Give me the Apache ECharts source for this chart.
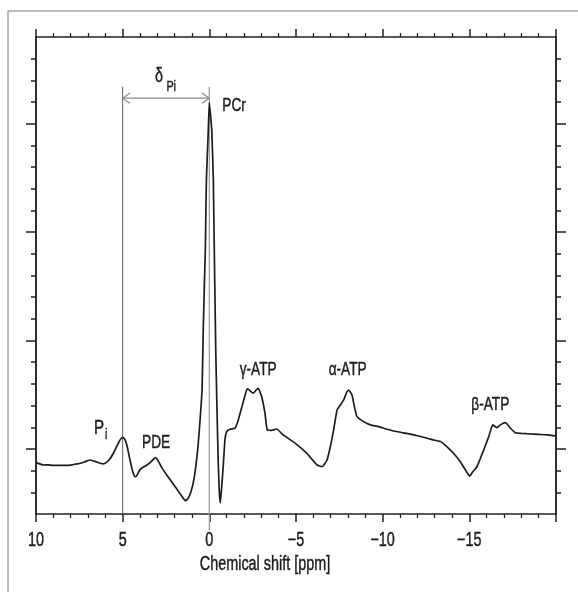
<!DOCTYPE html>
<html>
<head>
<meta charset="utf-8">
<script src="https://cdn.jsdelivr.net/npm/echarts@6/dist/echarts.min.js"></script>
<style>
html,body{margin:0;padding:0;background:#fff;}
#chart{width:578px;height:592px;}
</style>
</head>
<body>
<div id="chart"></div>
<script>
// ---- data ----
const ppm = [10, 9.75, 9.56, 9.3, 9.0, 8.6, 8.2, 7.9, 7.6, 7.2, 6.87, 6.5, 6.25, 6.1, 5.9, 5.7, 5.5, 5.3, 5.15, 5.0,
  4.88, 4.75, 4.6, 4.45, 4.3, 4.2, 4.05, 3.9, 3.6, 3.35, 3.11, 2.95, 2.75, 2.5, 2.25, 2.0, 1.77, 1.55, 1.38, 1.22,
  1.05, 0.9, 0.78, 0.68, 0.6, 0.52, 0.42, 0.35, 0.28, 0.23, 0.17, 0.08, 0.0, -0.08, -0.14, -0.23, -0.31, -0.37, -0.43, -0.51,
  -0.57, -0.63, -0.7, -0.8, -0.9, -1.0, -1.19, -1.48, -1.67, -1.96, -2.15, -2.21, -2.35, -2.53, -2.7, -2.82, -3.02, -3.21, -3.34, -3.6,
  -3.88, -4.26, -4.96, -5.63, -6.0, -6.21, -6.5, -6.79, -7.0, -7.17, -7.37, -7.56, -7.75, -7.94, -8.04, -8.23, -8.37, -8.52, -8.9, -9.29,
  -9.77, -10.2, -10.63, -11.2, -11.79, -12.3, -12.75, -13.33, -13.6, -13.91, -14.2, -14.48, -14.8, -15.02, -15.2, -15.44, -15.63, -15.83, -16.12, -16.35,
  -16.6, -16.79, -17.08, -17.37, -17.65, -18.0, -18.52, -19.0, -19.48, -20];
const intensity = [2.37, 2.30, 2.26, 2.27, 2.24, 2.24, 2.24, 2.27, 2.31, 2.40, 2.49, 2.40, 2.33, 2.31, 2.40, 2.58, 2.86, 3.18, 3.42, 3.54,
  3.45, 3.15, 2.58, 2.05, 1.72, 1.75, 1.98, 2.12, 2.26, 2.42, 2.60, 2.45, 2.15, 1.85, 1.57, 1.29, 1.03, 0.78, 0.61, 0.72,
  1.05, 1.55, 2.2, 2.9, 3.65, 4.49, 5.72, 8.49, 10.8, 12.18, 15.42, 17.26, 18.98, 18.3, 17.72, 15.42, 10.8, 7.57, 5.26, 2.49,
  1.11, 0.51, 1.11, 2.18, 3.42, 3.80, 3.91, 3.96, 4.34, 5.18, 5.72, 5.77, 5.68, 5.57, 5.72, 5.80, 5.41, 4.65, 3.88, 3.86,
  3.92, 3.65, 3.26, 2.80, 2.45, 2.26, 2.18, 2.49, 3.18, 3.88, 4.80, 5.03, 5.26, 5.64, 5.72, 5.49, 4.95, 4.49, 4.26, 4.11,
  4.03, 3.92, 3.83, 3.74, 3.65, 3.55, 3.45, 3.34, 3.18, 2.95, 2.70, 2.41, 2.0, 1.75, 1.95, 2.18, 2.55, 2.95, 3.57, 4.11,
  3.98, 4.11, 4.21, 3.96, 3.75, 3.72, 3.69, 3.67, 3.65, 3.60];
const xTickValues = [10, 5, 0, -5, -10, -15];
const xTickLabels = ['10', '5', '0', '\u22125', '\u221210', '\u221215'];
const yMinorTicks = [1,2,4,5,6,7,9,10,11,12,14,15,16,17,19,20,21];
const yMajorTicks = [3, 8, 13, 18];
const piShift = 5;      // Pi position (ppm)
const pcrShift = 0;     // PCr position (ppm)
const annotations = [
  {text: 'PCr', x: -1.43, y: 18.81, size: 19},
  {text: '\u03b3-ATP', x: -2.82, y: 6.65, size: 19},
  {text: '\u03b1-ATP', x: -7.98, y: 6.65, size: 19},
  {text: '\u03b2-ATP', x: -16.21, y: 5.03, size: 19},
  {text: 'PDE', x: 3.07, y: 3.28, size: 19},
  {text: 'P', x: 6.37, y: 3.97, size: 21},
  {text: 'i', x: 5.95, y: 3.66, size: 15},
  {text: '\u03b4', x: 2.9, y: 20.2, size: 20},
  {text: 'Pi', x: 2.2, y: 19.72, size: 15}
];

const FONT = "'Liberation Sans', sans-serif";
const SQUEEZE = 0.72;
const AX = '#222';
const TXT = '#1a1a1a';

const chart = echarts.init(document.getElementById('chart'), null, {renderer: 'canvas'});

function xAxisCfg(pos) {
  return {
    type: 'value', min: -20, max: 10, inverse: true, interval: 5, position: pos,
    axisLine: {show: true, onZero: false, lineStyle: {color: AX, width: 1.5}},
    axisTick: {show: true, length: 8, lineStyle: {color: AX, width: 1.5}},
    minorTick: {show: true, splitNumber: 5, length: 4, lineStyle: {color: AX, width: 1.3}},
    splitLine: {show: false}, minorSplitLine: {show: false},
    axisLabel: {show: false}
  };
}
function yAxisCfg(pos, ticks, len) {
  return {
    type: 'value', min: 0, max: 22, position: pos,
    axisLine: {show: true, onZero: false, lineStyle: {color: AX, width: 1.5}},
    axisTick: {show: true, length: len, customValues: ticks, lineStyle: {color: AX, width: 1.5}},
    axisLabel: {show: false},
    splitLine: {show: false}
  };
}

const spectrum = ppm.map((p, i) => [p, intensity[i]]);
const topRef = 19.7;

chart.setOption({
  animation: false,
  backgroundColor: '#fff',
  grid: {left: 36, right: 22, top: 37, bottom: 78, containLabel: false},
  xAxis: [xAxisCfg('bottom'), xAxisCfg('top')],
  yAxis: [
    yAxisCfg('left', yMinorTicks, 5),
    yAxisCfg('left', yMajorTicks, 10),
    yAxisCfg('right', yMinorTicks, 5),
    yAxisCfg('right', yMajorTicks, 10)
  ],
  series: [
    {type: 'line', data: [[piShift, topRef], [piShift, 0]], showSymbol: false, silent: true,
      lineStyle: {color: '#5f5f5f', width: 1}, z: 2},
    {type: 'line', data: [[pcrShift, topRef], [pcrShift, -0.75]], showSymbol: false, silent: true, clip: false,
      lineStyle: {color: '#a0a0a0', width: 1.3}, z: 2},
    {type: 'line', data: [[piShift, 19.18], [pcrShift, 19.18]], showSymbol: false, silent: true,
      lineStyle: {color: '#8a8a8a', width: 1.2}, z: 2},
    {type: 'line', data: [[piShift - 0.42, 19.42], [piShift, 19.18], [piShift - 0.42, 18.94]], showSymbol: false, silent: true,
      lineStyle: {color: '#8a8a8a', width: 1.2}, z: 2},
    {type: 'line', data: [[pcrShift + 0.42, 19.42], [pcrShift, 19.18], [pcrShift + 0.42, 18.94]], showSymbol: false, silent: true,
      lineStyle: {color: '#8a8a8a', width: 1.2}, z: 2},
    {type: 'line', data: spectrum, showSymbol: false, smooth: 0.15,
      lineStyle: {color: '#1c1c1c', width: 1.7}, z: 5}
  ]
});

function txt(text, x, y, size) {
  return {type: 'text', x: x, y: y, scaleX: SQUEEZE, z: 10, silent: true,
    style: {text: text, font: size + 'px ' + FONT, fill: TXT, stroke: TXT, lineWidth: 0.45,
      textAlign: 'center', textVerticalAlign: 'middle'}};
}

const g = [
  {type: 'rect', shape: {x: 8, y: 11, width: 600, height: 600}, style: {fill: 'none', stroke: '#777', lineWidth: 1}, z: 0, silent: true}
];
// x tick labels placed through the axis scale
xTickValues.forEach((v, i) => {
  const p = chart.convertToPixel({xAxisIndex: 0, yAxisIndex: 0}, [v, 0]);
  g.push(txt(xTickLabels[i], p[0], p[1] + 26, 20));
});
// axis title
const base = chart.convertToPixel({xAxisIndex: 0, yAxisIndex: 0}, [0, 0]);
g.push(txt('Chemical shift [ppm]', 265, base[1] + 50, 20));
annotations.forEach(a => {
  const p = chart.convertToPixel({xAxisIndex: 0, yAxisIndex: 0}, [a.x, a.y]);
  g.push(txt(a.text, p[0], p[1], a.size));
});
chart.setOption({graphic: g});
</script>
</body>
</html>
